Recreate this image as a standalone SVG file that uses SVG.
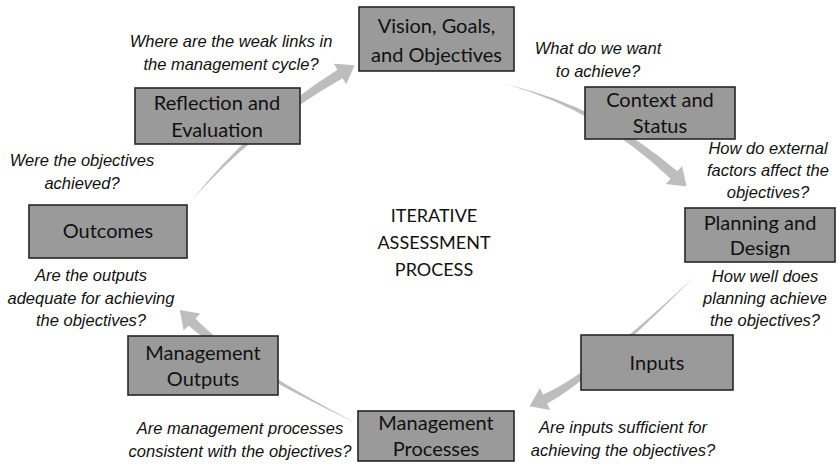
<svg xmlns="http://www.w3.org/2000/svg" width="838" height="464" viewBox="0 0 838 464">
<style>
.box{fill:#9a9a9a;stroke:#262626;stroke-width:1.6}
.lbl{font-family:Lato,"Liberation Sans",sans-serif;font-size:20px;fill:#111;text-anchor:middle}
.q{font-family:"Liberation Sans",sans-serif;font-style:italic;font-size:16.5px;fill:#111;text-anchor:middle}
.t{font-family:Lato,"Liberation Sans",sans-serif;font-size:18px;fill:#111;text-anchor:middle}
.arr{fill:#bdbdbd}
</style>
<rect width="838" height="464" fill="#fff"/>
<g id="connectors">
<path class="arr" d="M505,84 Q598.8,110.2 670.6,178.7 L666,183.9 L686.6,186.4 L682.1,166.1 L677.4,171.3 Q601.2,105.8 505,84 Z"/>
<path class="arr" d="M695,276 Q588.4,376.1 542.9,394.5 L539.9,388.1 L529.6,406.2 L550.1,409.9 L547.1,403.5 Q591.6,379.9 695,276 Z"/>
<path class="arr" d="M356,423 Q233.3,358.9 195.5,318.4 L200.4,313.4 L179.8,310.1 L183.6,330.6 L188.5,325.6 Q230.7,363.1 356,423 Z"/>
<path class="arr" d="M192,200 Q256.6,126.9 342.6,78.3 L346.2,84.3 L354.6,65.2 L333.8,63.7 L337.4,69.7 Q253.4,123.1 192,200 Z"/>
</g>
<g id="vision"><rect class="box" x="359" y="7" width="155" height="64"/><text class="lbl" x="436.5" y="33">Vision, Goals,</text><text class="lbl" x="436.5" y="62">and Objectives</text></g>
<g id="context"><rect class="box" x="585" y="87" width="150" height="52"/><text class="lbl" x="660" y="107">Context and</text><text class="lbl" x="660" y="133">Status</text></g>
<g id="planning"><rect class="box" x="685" y="208" width="150" height="54"/><text class="lbl" x="760" y="230">Planning and</text><text class="lbl" x="760" y="255">Design</text></g>
<g id="inputs"><rect class="box" x="581" y="335" width="152" height="55"/><text class="lbl" x="657" y="370">Inputs</text></g>
<g id="mproc"><rect class="box" x="358" y="411" width="156" height="50"/><text class="lbl" x="436" y="430">Management</text><text class="lbl" x="436" y="456">Processes</text></g>
<g id="mout"><rect class="box" x="128" y="336" width="150" height="59"/><text class="lbl" x="203" y="360">Management</text><text class="lbl" x="203" y="386">Outputs</text></g>
<g id="outcomes"><rect class="box" x="29" y="205" width="158" height="53"/><text class="lbl" x="108" y="238">Outcomes</text></g>
<g id="reflection"><rect class="box" x="135" y="88" width="165" height="56"/><text class="lbl" x="217" y="110">Reflection and</text><text class="lbl" x="217" y="137">Evaluation</text></g>
<g id="questions">
<text class="q" x="231" y="47">Where are the weak links in</text><text class="q" x="231" y="70">the management cycle?</text>
<text class="q" x="598" y="54">What do we want</text><text class="q" x="598" y="77">to achieve?</text>
<text class="q" x="768" y="154">How do external</text><text class="q" x="768" y="176">factors affect the</text><text class="q" x="768" y="198">objectives?</text>
<text class="q" x="765" y="282">How well does</text><text class="q" x="765" y="304">planning achieve</text><text class="q" x="765" y="326">the objectives?</text>
<text class="q" x="623" y="433">Are inputs sufficient for</text><text class="q" x="623" y="456">achieving the objectives?</text>
<text class="q" x="240" y="434">Are management processes</text><text class="q" x="240" y="457">consistent with the objectives?</text>
<text class="q" x="91" y="281">Are the outputs</text><text class="q" x="91" y="304">adequate for achieving</text><text class="q" x="91" y="326">the objectives?</text>
<text class="q" x="82" y="166">Were the objectives</text><text class="q" x="82" y="189">achieved?</text>
</g>
<g id="title"><text class="t" x="434" y="222">ITERATIVE</text><text class="t" x="434" y="249">ASSESSMENT</text><text class="t" x="434" y="276">PROCESS</text></g>
</svg>
